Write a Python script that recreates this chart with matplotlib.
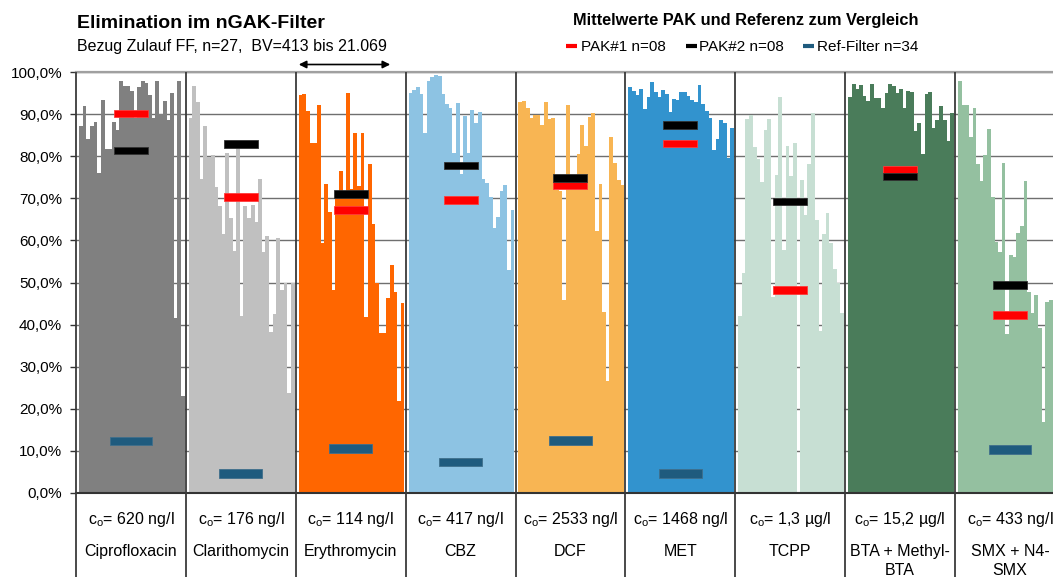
import numpy as np
import matplotlib
matplotlib.use("Agg")
import matplotlib.pyplot as plt
from matplotlib.lines import Line2D

plt.rcParams['font.family'] = ['Liberation Sans', 'DejaVu Sans']
plt.rcParams['mathtext.fontset'] = 'custom'
plt.rcParams['mathtext.rm'] = 'Liberation Sans'
plt.rcParams['mathtext.it'] = 'Liberation Sans:italic'
plt.rcParams['mathtext.bf'] = 'Liberation Sans:bold'

# ---------------- data ----------------
substances = ["Ciprofloxacin", "Clarithomycin", "Erythromycin", "CBZ", "DCF", "MET",
              "TCPP", "BTA + Methyl-\nBTA", "SMX + N4-\nSMX"]
concentrations = ["620 ng/l", "176 ng/l", "114 ng/l", "417 ng/l", "2533 ng/l",
                  "1468 ng/l", "1,3 µg/l", "15,2 µg/l", "433 ng/l"]

cipro = [87.2, 92.0, 84.1, 87.2, 88.1, 76.1, 93.4, 81.8, 81.8, 88.1, 86.3, 98.0, 96.7, 96.8,
         95.5, 89.2, 96.6, 98.0, 97.4, 94.6, 89.2, 98.0, 90.0, 93.2, 88.7, 95.0, 41.5, 98.0, 23.0]
clari = [89.2, 96.8, 93.0, 74.6, 87.2, 79.9, 80.3, 72.8, 68.2, 61.5, 80.9, 65.4, 57.5, 82.1,
         42.0, 68.2, 65.4, 68.4, 64.5, 74.6, 57.3, 61.1, 38.3, 42.5, 60.7, 48.1, 50.0, 23.8, 50.0]
erythro = [94.6, 94.8, 90.8, 83.3, 83.3, 92.2, 59.5, 73.4, 66.8, 48.2, 70.4, 76.5, 70.4, 95.1,
           72.3, 85.6, 73.0, 85.6, 41.9, 78.2, 63.9, 49.8, 38.1, 38.1, 46.3, 54.2, 47.7, 21.9, 45.2]
cbz = [95.1, 95.8, 96.6, 94.8, 85.5, 97.9, 99.0, 99.3, 99.1, 94.8, 92.5, 91.5, 80.9, 92.7,
       75.9, 89.7, 80.7, 91.0, 88.0, 90.6, 74.6, 73.6, 70.3, 63.0, 65.6, 71.8, 73.2, 53.0, 67.2]
dcf = [92.9, 93.2, 91.5, 89.2, 89.8, 89.8, 87.5, 92.9, 88.9, 89.1, 72.0, 71.8, 45.8, 92.2,
       73.6, 73.6, 80.6, 87.5, 82.5, 89.4, 90.3, 62.2, 73.4, 43.0, 26.6, 84.6, 78.4, 74.4, 73.2]
met = [96.5, 95.6, 94.6, 96.0, 91.3, 94.1, 97.7, 95.3, 94.1, 95.8, 94.8, 90.6, 93.6, 93.4,
       95.3, 95.3, 94.4, 93.4, 92.9, 97.0, 92.5, 90.8, 89.1, 81.5, 84.1, 88.7, 88.0, 79.6, 86.8]
tcpp = [42.0, 52.3, 88.9, 89.8, 82.2, 79.4, 73.9, 86.3, 88.9, 46.5, 75.6, 94.1, 57.7, 82.5,
        75.3, 83.2, 0.0, 74.4, 66.1, 78.2, 90.3, 64.9, 38.5, 61.5, 66.5, 59.4, 53.2, 49.9, 42.7]
bta = [94.1, 97.2, 96.0, 97.0, 94.4, 93.2, 97.2, 93.9, 93.9, 91.5, 95.1, 97.2, 96.7, 95.1,
       96.0, 91.5, 95.6, 95.3, 86.0, 88.0, 80.6, 94.8, 95.3, 86.8, 88.7, 92.0, 88.7, 83.6, 90.3]
smx = [98.0, 92.2, 92.2, 84.6, 91.5, 78.2, 74.1, 80.3, 86.5, 70.3, 59.6, 57.3, 78.4, 37.7,
       56.5, 56.1, 61.8, 63.4, 74.1, 47.7, 42.7, 47.0, 39.2, 16.8, 45.4, 45.8, 41.0, 38.0, 44.0]

pak1 = [90.2, 70.3, 67.2, 69.6, 73.1, 83.1, 48.2, 76.8, 42.3]
pak2 = [81.4, 82.9, 71.0, 77.8, 74.9, 87.5, 69.3, 75.2, 49.4]
ref_filter = [12.3, 4.5, 10.6, 7.3, 12.4, 4.5, np.nan, np.nan, 10.3]

groups = [cipro, clari, erythro, cbz, dcf, met, tcpp, bta, smx]
bar_colors = ["#808080", "#C0C0C0", "#FF6600", "#8DC3E3", "#F8B553",
              "#3293CE", "#C7DFD3", "#4A7C5A", "#94C0A0"]

# ---------------- figure ----------------
W, H = 1053, 577
fig = plt.figure(figsize=(W / 100, H / 100), dpi=100)

def fx(x):
    return x / W

def fy(y):
    return 1 - y / H

y0, y100 = 492.7, 72.3
gw = 109.875
ax = fig.add_axes([fx(76), fy(y0), 9 * gw / W, (y0 - y100) / H])
ax.set_xlim(0, 9)
ax.set_ylim(0, 100)

for g, vals in enumerate(groups):
    n = len(vals)
    w = 0.961 / n
    xs = g + 0.027 + np.arange(n) * w
    ax.bar(xs, vals, width=w * 1.05, align='edge', color=bar_colors[g],
           linewidth=0, zorder=2)

def markers(vals, color, edge, width, thick):
    vals = np.asarray(vals, dtype=float)
    for g, v in enumerate(vals):
        if np.isnan(v):
            continue
        ax.bar(g + 0.5, thick, bottom=v - thick / 2, width=width, color=color,
               edgecolor=edge, linewidth=0.6, zorder=4)

markers(ref_filter, "#1F5B7E", "#3f6f8c", 0.388, 2.1)
markers(pak1, "#FF0000", "#ff3b3b", 0.31, 1.8)
markers(pak2, "#000000", "#333333", 0.31, 1.8)

# grid & axes
ax.set_yticks(np.arange(0, 101, 10))
ax.set_yticklabels([f"{v:.1f}".replace('.', ',') + '%' for v in np.arange(0, 101, 10)],
                   fontsize=11)
ax.yaxis.grid(True, color='#6f6f6f', lw=1.0, zorder=0)
ax.set_axisbelow(True)
ax.tick_params(axis='y', length=4, width=1.0, color='#333333', pad=6)
ax.set_xticks([])
ax.spines['left'].set_visible(False)
ax.spines['right'].set_visible(False)
ax.spines['top'].set_color('#a0a0a0')
ax.spines['top'].set_linewidth(1.6)
ax.spines['bottom'].set_color('#333333')
ax.spines['bottom'].set_linewidth(1.5)

trans = ax.get_xaxis_transform()
for b in range(0, 9):
    ax.plot([b, b], [-0.25, 1.0], transform=trans, color='#3a3a3a', lw=1.3,
            clip_on=False, zorder=5, solid_capstyle='butt')

# table labels
def ax_y(ypx):
    return (y0 - ypx) / (y0 - y100)

for g in range(9):
    ax.text(g + 0.5, ax_y(524), r'c$_{\mathregular{o}}$= ' + concentrations[g],
            transform=trans, ha='center', va='baseline', fontsize=11.5, clip_on=False)
    for i, line in enumerate(substances[g].split('\n')):
        ax.text(g + 0.5, ax_y(556 + 18.8 * i), line, transform=trans, ha='center',
                va='baseline', fontsize=11.5, clip_on=False)

# titles
fig.text(fx(77), fy(27.7), "Elimination im nGAK-Filter", fontsize=14, weight='bold',
         va='baseline', ha='left')
fig.text(fx(77), fy(50.7), "Bezug Zulauf FF, n=27,  BV=413 bis 21.069", fontsize=11.5,
         va='baseline', ha='left')

# arrow
fig.add_artist(matplotlib.patches.FancyArrowPatch(
    (fx(296), fy(64.5)), (fx(393), fy(64.5)), transform=fig.transFigure,
    arrowstyle='<|-|>', mutation_scale=11, lw=1.2, color='black'))

# legend
fig.text(fx(572.7), fy(25), "Mittelwerte PAK und Referenz zum Vergleich", fontsize=11.8,
         weight='bold', va='baseline', ha='left')
leg_items = [("PAK#1 n=08", "#FF0000", 566, 581),
             ("PAK#2 n=08", "#000000", 686, 699),
             ("Ref-Filter n=34", "#1F5B7E", 803, 817)]
for label, col, x0, xt in leg_items:
    fig.add_artist(Line2D([fx(x0), fx(x0 + 11)], [fy(45.7), fy(45.7)],
                          transform=fig.transFigure, color=col, lw=3,
                          solid_capstyle='butt'))
    fig.text(fx(xt), fy(50.7), label, fontsize=11, va='baseline', ha='left')

fig.savefig("out.png", dpi=100)
